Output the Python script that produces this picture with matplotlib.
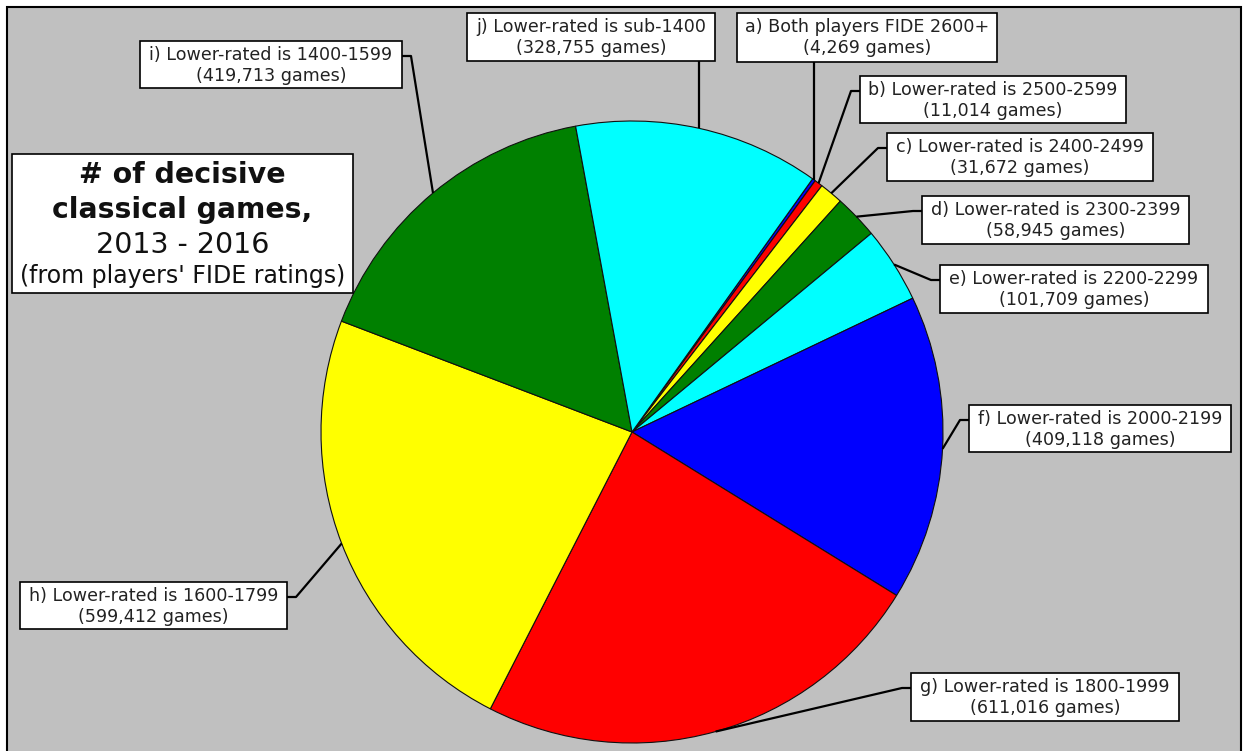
import numpy as np
import matplotlib
matplotlib.use("Agg")
import matplotlib.pyplot as plt
from matplotlib.patches import Rectangle

# Data
labels = [
    "a) Both players FIDE 2600+",
    "b) Lower-rated is 2500-2599",
    "c) Lower-rated is 2400-2499",
    "d) Lower-rated is 2300-2399",
    "e) Lower-rated is 2200-2299",
    "f) Lower-rated is 2000-2199",
    "g) Lower-rated is 1800-1999",
    "h) Lower-rated is 1600-1799",
    "i) Lower-rated is 1400-1599",
    "j) Lower-rated is sub-1400",
]
games = [4269, 11014, 31672, 58945, 101709, 409118, 611016, 599412, 419713, 328755]
colors = ["#0000FF", "#FF0000", "#FFFF00", "#008000", "#00FFFF"] * 2

title_lines = ["# of decisive", "classical games,", "2013 - 2016", "(from players' FIDE ratings)"]

W, H = 1244, 751
fig = plt.figure(figsize=(W / 100, H / 100), dpi=100)
fig.patch.set_facecolor("white")
ax = fig.add_axes([0, 0, 1, 1])


def py(y):
    # pixel row (from top) -> data y
    return H - y


# chart area with black frame
ax.add_patch(Rectangle((7, py(770)), 1234, 763, facecolor="#C0C0C0",
                       edgecolor="black", linewidth=1.5, zorder=0))

cx, cy, r = 632, py(432), 311
wedges, _ = ax.pie(games, colors=colors, startangle=54.5, counterclock=False,
                   center=(cx, cy), radius=r,
                   wedgeprops=dict(edgecolor="#101010", linewidth=0.8))

# label boxes: left, top, width, height (pixels) and side where the leader leaves
boxes = [
    (737, 13, 260, 49, "bottom"),
    (860, 76, 266, 47, "left"),
    (887, 133, 266, 48, "left"),
    (922, 196, 267, 48, "left"),
    (940, 265, 268, 48, "left"),
    (969, 405, 262, 47, "left"),
    (911, 673, 268, 48, "left"),
    (20, 582, 267, 47, "right"),
    (140, 41, 262, 47, "right"),
    (467, 13, 248, 48, "bottom"),
]

for w, lab, n, (bx, by, bw, bh, side) in zip(wedges, labels, games, boxes):
    mid = np.deg2rad((w.theta1 + w.theta2) / 2)
    ex, ey = cx + r * np.cos(mid), cy + r * np.sin(mid)
    if side == "bottom":
        xs, ys = [ex, ex], [py(by + bh), ey]
    elif side == "left":
        sy = py(by + 15)
        xs, ys = [bx, bx - 9, ex], [sy, sy, ey]
    else:
        sy = py(by + 15)
        xs, ys = [bx + bw, bx + bw + 9, ex], [sy, sy, ey]
    ax.plot(xs, ys, color="black", linewidth=1.6, solid_capstyle="butt", zorder=3)
    ax.add_patch(Rectangle((bx, py(by + bh)), bw, bh, facecolor="white",
                           edgecolor="black", linewidth=1.2, zorder=4))
    ax.text(bx + bw / 2, py(by + 14), lab, ha="center", va="center",
            fontsize=12.6, color="#222222", zorder=5)
    ax.text(bx + bw / 2, py(by + 35), "({:,} games)".format(n), ha="center",
            va="center", fontsize=12.6, color="#222222", zorder=5)

# title box
ax.add_patch(Rectangle((12, py(293)), 341, 139, facecolor="white",
                       edgecolor="black", linewidth=1.2, zorder=4))
tx = 182.5
ax.text(tx, py(175), title_lines[0], ha="center", va="center", fontsize=20.5,
        fontweight="bold", color="#111111", zorder=5)
ax.text(tx, py(210), title_lines[1], ha="center", va="center", fontsize=20.3,
        fontweight="bold", color="#111111", zorder=5)
ax.text(tx, py(245), title_lines[2], ha="center", va="center", fontsize=20.5,
        color="#111111", zorder=5)
ax.text(tx, py(276), title_lines[3], ha="center", va="center", fontsize=17,
        color="#111111", zorder=5)

ax.set_xlim(0, W)
ax.set_ylim(0, H)
ax.set_aspect("auto")
ax.axis("off")

fig.savefig("out.png", dpi=100, facecolor="white")
